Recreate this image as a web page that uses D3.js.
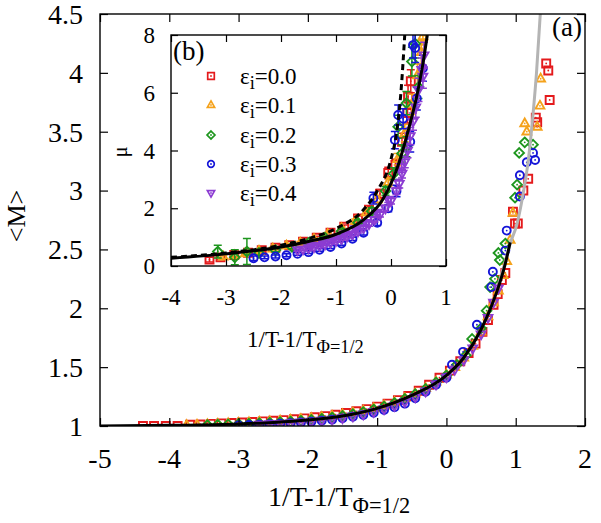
<!DOCTYPE html>
<html><head><meta charset="utf-8">
<script src="https://cdn.jsdelivr.net/npm/d3@7"></script>
<style>body{margin:0;background:#fff}svg{font-family:"Liberation Serif","Times New Roman",serif}</style>
</head><body><svg id="c" width="601" height="523"></svg>
<script>
// ---------- data ----------
const mainXTicks = [-5,-4,-3,-2,-1,0,1,2];
const mainXTickLabels = ["-5","-4","-3","-2","-1","0","1","2"];
const mainYTicks = [1,1.5,2,2.5,3,3.5,4,4.5];
const mainYTickLabels = ["1","1.5","2","2.5","3","3.5","4","4.5"];
const insetXTicks = [-4,-3,-2,-1,0,1];
const insetXTickLabels = ["-4","-3","-2","-1","0","1"];
const insetYTicks = [0,2,4,6,8];
const insetYTickLabels = ["0","2","4","6","8"];
const seriesNames = ["0.0","0.1","0.2","0.3","0.4"];

// main panel fit curves
const fitX = [-5,-4,-3,-2.5,-2,-1.5,-1,-0.5,0,0.25,0.5,0.65,0.75,0.85,0.92];
const fitY = [1.0,1.006,1.018,1.03,1.05,1.085,1.15,1.26,1.43,1.58,1.82,2.02,2.18,2.38,2.56];
const grayX = [0.75,0.85,0.92,1.02,1.1,1.18,1.25,1.3,1.36];
const grayY = [2.2,2.4,2.55,2.72,2.95,3.25,3.65,4.0,4.55];

// main panel data  [x, <M>]
const mainRed = [[-4.38,1.0],[-4.22,1.0],[-4.05,1.0],[-3.88,1.0],[-3.7,1.01],[-3.55,1.013],[-3.4,1.018],[-3.25,1.022],[-3.1,1.026],[-2.95,1.03],[-2.8,1.034],[-2.65,1.039],[-2.5,1.045],[-2.35,1.05],[-2.2,1.057],[-2.05,1.065],[-1.9,1.074],[-1.75,1.084],[-1.6,1.096],[-1.45,1.11],[-1.3,1.125],[-1.15,1.143],[-1.0,1.165],[-0.85,1.19],[-0.7,1.22],[-0.55,1.255],[-0.4,1.3],[-0.25,1.35],[-0.1,1.41],[0.05,1.47],[0.2,1.55],[0.32,1.62],[0.42,1.7],[0.52,1.8],[0.6,1.9],[0.68,2.03],[0.74,2.12],[0.8,2.24],[0.85,2.3],[0.96,2.82],[0.99,2.72],[1.03,2.72],[1.11,3.0],[1.18,3.1],[1.29,3.62],[1.31,3.58],[1.44,4.08],[1.47,4.02],[1.49,3.77]];
const mainOrange = [[-3.75,1.006],[-3.6,1.01],[-3.45,1.014],[-3.3,1.018],[-3.15,1.022],[-3.0,1.026],[-2.85,1.03],[-2.7,1.034],[-2.55,1.039],[-2.4,1.045],[-2.25,1.051],[-2.1,1.058],[-1.95,1.066],[-1.8,1.075],[-1.65,1.086],[-1.5,1.098],[-1.35,1.112],[-1.2,1.128],[-1.05,1.148],[-0.9,1.172],[-0.75,1.2],[-0.6,1.235],[-0.45,1.275],[-0.3,1.32],[-0.15,1.375],[0.0,1.435],[0.12,1.5],[0.25,1.58],[0.38,1.68],[0.5,1.8],[0.6,1.93],[0.68,2.05],[0.75,2.15],[0.82,2.28],[0.87,2.4],[0.92,2.58],[0.96,2.81],[1.13,3.57],[1.16,3.5],[1.31,3.54],[1.35,3.72],[1.36,3.95]];
const mainGreen = [[-3.45,1.008],[-3.3,1.011],[-3.15,1.014],[-3.0,1.017],[-2.85,1.02],[-2.7,1.024],[-2.55,1.028],[-2.4,1.033],[-2.25,1.038],[-2.1,1.044],[-1.95,1.052],[-1.8,1.061],[-1.65,1.072],[-1.5,1.085],[-1.35,1.1],[-1.2,1.118],[-1.05,1.14],[-0.9,1.165],[-0.75,1.195],[-0.6,1.23],[-0.45,1.27],[-0.3,1.315],[-0.15,1.37],[0.0,1.43],[0.15,1.52],[0.28,1.6],[0.37,1.74],[0.5,1.83],[0.58,1.98],[0.63,2.18],[0.7,2.25],[0.75,2.47],[0.77,2.41],[0.85,2.55],[0.99,2.94],[1.02,3.05],[1.05,3.32],[1.13,3.41],[1.25,3.39]];
const mainBlue = [[-3.0,1.005],[-2.85,1.008],[-2.7,1.011],[-2.55,1.015],[-2.4,1.019],[-2.25,1.024],[-2.1,1.03],[-1.95,1.037],[-1.8,1.045],[-1.65,1.054],[-1.5,1.065],[-1.35,1.078],[-1.2,1.094],[-1.05,1.113],[-0.9,1.135],[-0.75,1.16],[-0.6,1.19],[-0.45,1.235],[-0.3,1.29],[-0.15,1.35],[0.0,1.41],[0.08,1.52],[0.24,1.63],[0.44,1.86],[0.65,2.18],[0.67,2.31],[0.85,2.49],[0.87,2.66],[1.06,2.95],[1.06,3.13],[1.16,3.24],[1.25,3.32],[1.28,3.26]];
const mainPurple = [[-2.7,1.012],[-2.55,1.016],[-2.4,1.02],[-2.25,1.025],[-2.1,1.031],[-1.95,1.038],[-1.8,1.046],[-1.65,1.056],[-1.5,1.068],[-1.35,1.082],[-1.2,1.099],[-1.05,1.12],[-0.9,1.144],[-0.75,1.172],[-0.6,1.205],[-0.45,1.245],[-0.3,1.295],[-0.15,1.355],[0.0,1.415],[0.12,1.48],[0.25,1.56],[0.38,1.66],[0.5,1.78],[0.6,1.92],[0.68,2.05],[0.75,2.17]];

// inset fit curves
const insetFitX = [-4,-3,-2,-1.5,-1,-0.5,-0.15,0.15,0.3,0.47,0.58,0.66];
const insetFitY = [0.27,0.42,0.66,0.85,1.1,1.6,2.3,3.6,4.6,5.9,7.0,8.0];
const insetDashX = [-4,-3,-2,-1.5,-1,-0.5,-0.25,0,0.1,0.18,0.25];
const insetDashY = [0.3,0.45,0.72,0.95,1.3,1.95,2.6,3.7,4.6,6.0,8.0];

// inset data  [x, mu, error]
const insetRed = [[-3.3,0.22,0.08],[-3.1,0.3,0.08],[-2.85,0.38,0.06],[-2.6,0.46,0.06],[-2.35,0.55,0.05],[-2.1,0.63,0.05],[-1.85,0.72,0.05],[-1.6,0.84,0.05],[-1.35,0.98,0.05],[-1.1,1.15,0.06],[-0.85,1.36,0.06],[-0.6,1.65,0.08],[-0.4,1.95,0.1],[-0.2,2.5,0.15],[-0.05,3.22,0.2],[0.08,3.5,0.2],[0.2,4.3,0.3],[0.3,5.3,0.35],[0.31,5.86,0.4],[0.36,6.4,0.4]];
const insetOrange = [[-3.05,0.32,0.06],[-2.85,0.37,0.06],[-2.65,0.43,0.05],[-2.4,0.52,0.05],[-2.15,0.6,0.05],[-1.9,0.7,0.05],[-1.65,0.8,0.05],[-1.4,0.93,0.05],[-1.15,1.1,0.06],[-0.9,1.3,0.06],[-0.65,1.55,0.08],[-0.45,1.85,0.1],[-0.25,2.3,0.12],[-0.05,2.9,0.15],[0.12,3.7,0.2],[0.25,4.6,0.3],[0.38,5.6,0.35],[0.48,6.6,0.4],[0.55,7.4,0.4],[0.58,7.95,0.3]];
const insetGreen = [[-3.15,0.5,0.22],[-2.84,0.3,0.26],[-2.62,0.5,0.45],[-2.4,0.45,0.08],[-2.1,0.55,0.06],[-1.8,0.66,0.06],[-1.5,0.8,0.06],[-1.2,0.98,0.06],[-0.9,1.2,0.08],[-0.6,1.5,0.1],[-0.35,1.9,0.12],[-0.1,2.6,0.15],[0.05,3.2,0.2],[0.13,4.82,0.4],[0.2,3.9,0.3],[0.28,4.13,0.35],[0.28,5.64,0.4],[0.38,7.08,0.5],[0.44,7.7,0.5],[0.5,6.2,0.4]];
const insetBlue = [[-2.5,0.27,0.08],[-2.3,0.3,0.05],[-2.1,0.33,0.05],[-1.9,0.37,0.05],[-1.7,0.42,0.05],[-1.5,0.48,0.05],[-1.3,0.56,0.05],[-1.1,0.66,0.05],[-0.9,0.78,0.06],[-0.7,0.94,0.06],[-0.5,1.15,0.08],[-0.32,2.35,0.2],[-0.25,1.5,0.1],[-0.05,2.0,0.12],[0.07,4.36,0.3],[0.1,2.6,0.2],[0.13,5.23,0.35],[0.22,5.1,0.35],[0.35,4.3,0.35],[0.4,7.65,0.45],[0.44,7.55,0.5],[0.47,5.8,0.4],[0.58,6.85,0.45]];
const insetPurple = [[-1.7,0.55,0.04],[-1.6,0.58,0.04],[-1.5,0.62,0.04],[-1.45,0.72,0.04],[-1.4,0.66,0.04],[-1.3,0.7,0.04],[-1.25,0.82,0.04],[-1.2,0.75,0.04],[-1.1,0.81,0.04],[-1.05,0.95,0.05],[-1.0,0.87,0.05],[-0.9,0.94,0.05],[-0.85,1.1,0.05],[-0.8,1.02,0.05],[-0.7,1.1,0.05],[-0.65,1.28,0.06],[-0.6,1.2,0.06],[-0.5,1.32,0.06],[-0.45,1.5,0.07],[-0.4,1.45,0.07],[-0.3,1.6,0.08],[-0.25,1.85,0.08],[-0.2,1.78,0.08],[-0.1,2.0,0.1],[-0.05,2.3,0.1],[0.0,2.25,0.1],[0.1,2.6,0.12],[0.15,2.85,0.15],[0.195,3.44,0.2],[0.2,3.2,0.15],[0.25,3.6,0.2],[0.3,4.0,0.25],[0.35,4.5,0.3],[0.4,5.0,0.3],[0.45,5.5,0.35],[0.5,6.1,0.4],[0.56,6.8,0.4],[0.58,6.56,0.4],[0.6,7.3,0.45]];

const colors = ["#e41a1c","#f5a21b","#1e961e","#1515d8","#8c3cd2"];
const shapes = ["square","tri","diamond","circle","trid"];
const mainSets = [mainRed,mainOrange,mainGreen,mainBlue,mainPurple];
const insetSets = [insetRed,insetOrange,insetGreen,insetBlue,insetPurple];

// ---------- drawing ----------
const svg = d3.select("#c");
const FM = 28, FI = 23;

function markerPath(shape, r){
  switch(shape){
    case "square": return `M${-r},${-r}h${2*r}v${2*r}h${-2*r}Z`;
    case "tri": return `M0,${-r*1.25}L${r*1.1},${r*0.7}L${-r*1.1},${r*0.7}Z`;
    case "trid": return `M0,${r*1.25}L${r*1.1},${-r*0.7}L${-r*1.1},${-r*0.7}Z`;
    case "diamond": return `M0,${-r*1.2}L${r*1.2},0L0,${r*1.2}L${-r*1.2},0Z`;
    default: {const p=d3.path();p.arc(0,0,r,0,2*Math.PI);return p.toString();}
  }
}
function drawMarker(g, shape, cx, cy, r, color, sw){
  const m = g.append("g").attr("transform",`translate(${cx},${cy})`);
  m.append("path").attr("d",markerPath(shape,r)).attr("fill","none").attr("stroke",color).attr("stroke-width",sw);
  m.append("circle").attr("r",0.9).attr("fill",color);
}

function frame(g, x, y, xt, yt, tl){
  const [x0,x1]=x.range(), [y0,y1]=y.range();
  const ax = [
    [d3.axisBottom(x).tickValues(xt).tickSize(-tl).tickFormat(""), `translate(0,${y0})`],
    [d3.axisTop(x).tickValues(xt).tickSize(-tl).tickFormat(""), `translate(0,${y1})`],
    [d3.axisLeft(y).tickValues(yt).tickSize(-tl).tickFormat(""), `translate(${x0},0)`],
    [d3.axisRight(y).tickValues(yt).tickSize(-tl).tickFormat(""), `translate(${x1},0)`]
  ];
  ax.forEach(([a,t])=>{
    const gg=g.append("g").attr("transform",t).call(a);
    gg.select(".domain").remove();
    gg.selectAll(".tick line").attr("stroke","#000").attr("stroke-width",1.2);
  });
  g.append("rect").attr("x",x0).attr("y",y1).attr("width",x1-x0).attr("height",y0-y1)
    .attr("fill","none").attr("stroke","#000").attr("stroke-width",1.4);
}
function tickLabels(g, x, y, xt, xl, yt, yl, fs, xBase, yRight){
  g.append("g").selectAll("text").data(xt).join("text")
    .attr("x",d=>x(d)).attr("y",xBase).attr("text-anchor","middle").attr("font-size",fs)
    .text((d,i)=>xl[i]);
  g.append("g").selectAll("text").data(yt).join("text")
    .attr("x",yRight).attr("y",d=>y(d)).attr("dy","0.35em").attr("text-anchor","end").attr("font-size",fs)
    .text((d,i)=>yl[i]);
}

// main panel
const mx = d3.scaleLinear().domain([-5,2]).range([100,585]);
const my = d3.scaleLinear().domain([1,4.5]).range([426,14]);
svg.append("defs").html('<clipPath id="cm"><rect x="100" y="14" width="485" height="412"/></clipPath><clipPath id="ci"><rect x="171" y="35" width="275" height="231"/></clipPath>');
const gm = svg.append("g");
const gmp = gm.append("g").attr("clip-path","url(#cm)");
mainSets.forEach((s,k)=>{
  s.forEach(d=>drawMarker(gmp, shapes[k], mx(d[0]), my(d[1]), 4, colors[k], 1.9));
});
const lineM = d3.line().x(d=>mx(d[0])).y(d=>my(d[1])).curve(d3.curveMonotoneX);
gmp.append("path").attr("d",lineM(grayX.map((v,i)=>[v,grayY[i]]))).attr("fill","none").attr("stroke","#b4b4b4").attr("stroke-width",3);
gmp.append("path").attr("d",lineM(fitX.map((v,i)=>[v,fitY[i]]))).attr("fill","none").attr("stroke","#000").attr("stroke-width",3);
frame(gm, mx, my, mainXTicks, mainYTicks, 8);
tickLabels(gm, mx, my, mainXTicks, mainXTickLabels, mainYTicks, mainYTickLabels, FM, 468, 83);

// main axis labels
const xl = gm.append("text").attr("x",268).attr("y",506).attr("font-size",FM);
xl.append("tspan").text("1/T-1/T");
xl.append("tspan").attr("dy",7).attr("font-size",FM*0.8).text("\u03A6=1/2");
gm.append("text").attr("transform","translate(25,216) rotate(-90)").attr("text-anchor","middle").attr("font-size",26).text("<M>");
gm.append("text").attr("x",582).attr("y",36).attr("text-anchor","end").attr("font-size",27).text("(a)");

// inset
const ix = d3.scaleLinear().domain([-4,1]).range([171,446]);
const iy = d3.scaleLinear().domain([0,8]).range([266,35]);
const gi = svg.append("g");
gi.append("rect").attr("x",171).attr("y",35).attr("width",275).attr("height",231).attr("fill","#fff");
const gip = gi.append("g").attr("clip-path","url(#ci)");
insetSets.forEach((s,k)=>{
  s.forEach(d=>{
    const cx=ix(d[0]), ya=iy(d[1]-d[2]), yb=iy(d[1]+d[2]);
    gip.append("path").attr("d",`M${cx},${ya}V${yb}M${cx-4},${ya}h8M${cx-4},${yb}h8`)
      .attr("stroke",colors[k]).attr("stroke-width",1.5).attr("fill","none");
    drawMarker(gip, shapes[k], cx, iy(d[1]), 4, colors[k], 1.9);
  });
});
const lineI = d3.line().x(d=>ix(d[0])).y(d=>iy(d[1])).curve(d3.curveMonotoneX);
gip.append("path").attr("d",lineI(insetDashX.map((v,i)=>[v,insetDashY[i]]))).attr("fill","none").attr("stroke","#000").attr("stroke-width",3).attr("stroke-dasharray","6,4");
gip.append("path").attr("d",lineI(insetFitX.map((v,i)=>[v,insetFitY[i]]))).attr("fill","none").attr("stroke","#000").attr("stroke-width",3);
frame(gi, ix, iy, insetXTicks, insetYTicks, 7);
tickLabels(gi, ix, iy, insetXTicks, insetXTickLabels, insetYTicks, insetYTickLabels, FI, 305, 155);
const il = gi.append("text").attr("x",247).attr("y",347).attr("font-size",FI);
il.append("tspan").text("1/T-1/T");
il.append("tspan").attr("dy",6).attr("font-size",FI*0.8).text("\u03A6=1/2");
gi.append("text").attr("transform","translate(127,152) rotate(-90)").attr("text-anchor","middle").attr("font-size",20).text("\u03BC");
gi.append("text").attr("x",173).attr("y",60).attr("font-size",27).text("(b)");

// legend
const legY = [76,105,135,164,193];
seriesNames.forEach((n,k)=>{
  drawMarker(gi, shapes[k], 211, legY[k], 3.3, colors[k], 1.7);
  const t = gi.append("text").attr("x",240).attr("y",legY[k]+8).attr("font-size",FI);
  t.append("tspan").text("\u03B5");
  t.append("tspan").attr("dy",5).attr("font-size",FI*0.8).text("i");
  t.append("tspan").attr("dy",-5).text("="+n);
});
</script></body></html>
